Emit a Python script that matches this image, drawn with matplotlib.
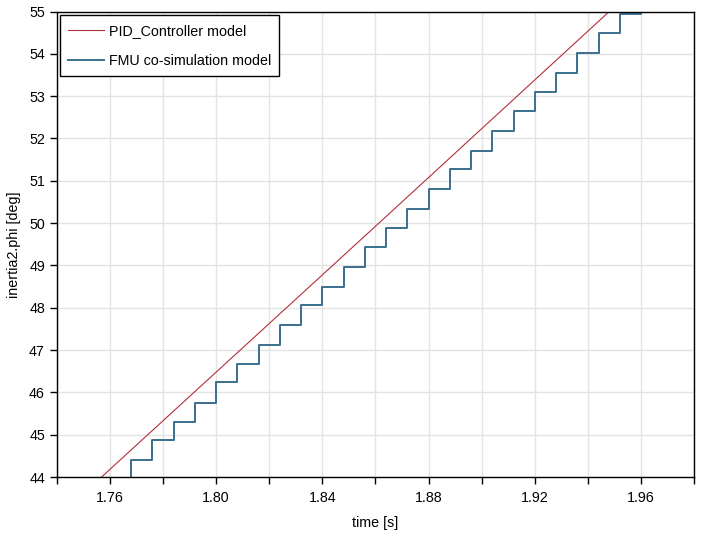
import matplotlib

matplotlib.use("Agg")
import matplotlib.pyplot as plt
from matplotlib.ticker import MultipleLocator

plt.rcParams["font.family"] = ["Liberation Sans", "DejaVu Sans"]
plt.rcParams["font.size"] = 10.3

# PID controller reference (continuous)
pid_time = [1.74, 1.7569, 1.8613, 1.948, 1.98]
pid_phi = [43.03, 44.0, 50.0, 55.0, 56.84]

# FMU co-simulation output (held between communication points)
fmu_time = [1.760, 1.768, 1.776, 1.784, 1.792, 1.800, 1.808, 1.816, 1.824,
            1.832, 1.840, 1.848, 1.856, 1.864, 1.872, 1.880, 1.888, 1.896,
            1.904, 1.912, 1.920, 1.928, 1.936, 1.944, 1.952, 1.960, 1.968]
fmu_phi = [43.94, 44.40, 44.87, 45.30, 45.76, 46.24, 46.66, 47.13, 47.60,
           48.07, 48.50, 48.97, 49.43, 49.89, 50.34, 50.81, 51.28, 51.71,
           52.18, 52.65, 53.10, 53.54, 54.02, 54.49, 54.94, 55.40, 55.86]

x_ticks = [1.76, 1.80, 1.84, 1.88, 1.92, 1.96]
x_ticklabels = ["1.76", "1.80", "1.84", "1.88", "1.92", "1.96"]

fig = plt.figure(figsize=(7.05, 5.35), dpi=100)
ax = fig.add_axes([0.0804, 0.1084, 0.9044, 0.8701])

ax.plot(pid_time, pid_phi, color="#b0303a", lw=0.8, label="PID_Controller model")
ax.step(fmu_time, fmu_phi, where="post", color="#3a6f8e", lw=1.4,
        label="FMU co-simulation model")

ax.set_xlim(1.74, 1.98)
ax.set_ylim(44, 55)
ax.set_xticks(x_ticks, x_ticklabels)
ax.xaxis.set_minor_locator(MultipleLocator(0.02))
ax.yaxis.set_major_locator(MultipleLocator(1))

ax.grid(True, which="both", color="#e3e3e3", lw=1)
ax.set_axisbelow(True)
ax.tick_params(which="both", direction="out", length=5, width=1, color="black",
               top=False, right=False)
ax.tick_params(axis="x", pad=5)
for s in ax.spines.values():
    s.set_color("black")
    s.set_linewidth(1)

ax.set_xlabel("time [s]", labelpad=8)
ax.set_ylabel("inertia2.phi [deg]", labelpad=6)

leg = ax.legend(loc="upper left", bbox_to_anchor=(0.005, 0.992), borderaxespad=0,
                fancybox=False, framealpha=1, edgecolor="black", borderpad=0.6,
                handlelength=2.5, handletextpad=0.3, labelspacing=1.1)
leg.get_frame().set_linewidth(1)

fig.savefig("out.png", dpi=100)
